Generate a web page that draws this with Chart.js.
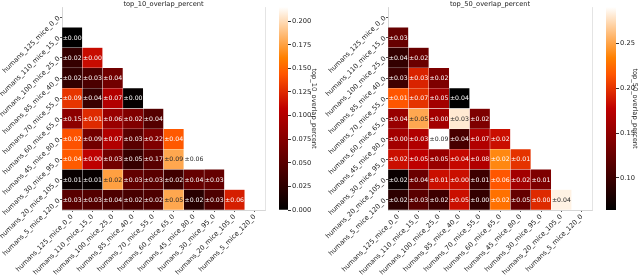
<!DOCTYPE html>
<html>
<head>
<meta charset="utf-8">
<script src="https://cdn.jsdelivr.net/npm/chart.js@4.4.1/dist/chart.umd.min.js"></script>
<style>
  html, body { margin: 0; padding: 0; background: #fff; }
  #wrap { position: relative; width: 640px; height: 275px; overflow: hidden; }
  canvas { position: absolute; top: 0; }
</style>
</head>
<body>
<div id="wrap">
  <canvas id="heat10" width="268" height="275" style="left:0px"></canvas>
  <canvas id="bar10" width="50" height="275" style="left:270px"></canvas>
  <canvas id="heat50" width="275" height="275" style="left:320px"></canvas>
  <canvas id="bar50" width="50" height="275" style="left:590px"></canvas>
</div>
<script>
// group names, used for rows and columns
const groups = ['humans_125_mice_0_0', 'humans_110_mice_15_0', 'humans_100_mice_25_0',
  'humans_85_mice_40_0', 'humans_70_mice_55_0', 'humans_60_mice_65_0', 'humans_45_mice_80_0',
  'humans_30_mice_95_0', 'humans_20_mice_105_0', 'humans_5_mice_120_0'];

// lower triangle: row i holds columns 0..i-1
const top10Mean = [
  [],
  [0.000],
  [0.030, 0.112],
  [0.028, 0.042, 0.064],
  [0.130, 0.032, 0.100, 0.003],
  [0.079, 0.125, 0.086, 0.072, 0.047],
  [0.142, 0.064, 0.100, 0.050, 0.072, 0.145],
  [0.146, 0.107, 0.064, 0.030, 0.050, 0.178, 0.215],
  [0.005, 0.004, 0.175, 0.055, 0.050, 0.036, 0.057, 0.057],
  [0.050, 0.047, 0.043, 0.040, 0.043, 0.178, 0.022, 0.043, 0.120]
];
const top10Std = [
  [],
  [0.00],
  [0.02, 0.00],
  [0.02, 0.03, 0.04],
  [0.09, 0.04, 0.07, 0.00],
  [0.15, 0.01, 0.06, 0.02, 0.04],
  [0.02, 0.09, 0.07, 0.03, 0.22, 0.04],
  [0.04, 0.00, 0.03, 0.05, 0.17, 0.09, 0.06],
  [0.01, 0.01, 0.02, 0.03, 0.03, 0.02, 0.04, 0.03],
  [0.03, 0.03, 0.04, 0.02, 0.02, 0.05, 0.02, 0.03, 0.06]
];
const top50Mean = [
  [],
  [0.125],
  [0.094, 0.127],
  [0.102, 0.193, 0.139],
  [0.216, 0.200, 0.161, 0.064],
  [0.154, 0.252, 0.161, 0.281, 0.139],
  [0.161, 0.169, 0.291, 0.106, 0.169, 0.184],
  [0.184, 0.177, 0.154, 0.181, 0.169, 0.238, 0.200],
  [0.070, 0.127, 0.184, 0.184, 0.100, 0.216, 0.161, 0.139],
  [0.090, 0.117, 0.100, 0.184, 0.094, 0.228, 0.124, 0.196, 0.285]
];
const top50Std = [
  [],
  [0.03],
  [0.04, 0.02],
  [0.03, 0.03, 0.02],
  [0.01, 0.07, 0.05, 0.04],
  [0.04, 0.05, 0.00, 0.03, 0.02],
  [0.00, 0.03, 0.09, 0.04, 0.07, 0.02],
  [0.02, 0.05, 0.05, 0.04, 0.08, 0.02, 0.01],
  [0.02, 0.04, 0.01, 0.00, 0.01, 0.06, 0.02, 0.01],
  [0.02, 0.03, 0.02, 0.05, 0.00, 0.02, 0.05, 0.00, 0.04]
];
// colorbar ticks
const top10Ticks = [0, 0.025, 0.05, 0.075, 0.1, 0.125, 0.15, 0.175, 0.2];
const top50Ticks = [0.10, 0.15, 0.20, 0.25];

const FONT = { family: '"DejaVu Sans", sans-serif', size: 6.7 };
const INK = '#222';

// matplotlib gist_heat
function gistHeat(f) {
  f = Math.max(0, Math.min(1, f));
  return [Math.min(1, 1.5 * f), Math.max(0, 2 * f - 1), Math.max(0, 4 * f - 3)];
}
function rgbStr(c) {
  return 'rgb(' + c.map(v => Math.round(v * 255)).join(',') + ')';
}
function luminance(c) {
  const l = c.map(v => v <= 0.03928 ? v / 12.92 : Math.pow((v + 0.055) / 1.055, 2.4));
  return 0.2126 * l[0] + 0.7152 * l[1] + 0.0722 * l[2];
}
function range(mean) {
  const all = mean.flat();
  return [Math.min(...all), Math.max(...all)];
}

function makeHeat(id, mean, std, title, yWidth) {
  const [vmin, vmax] = range(mean);
  const frac = v => (v - vmin) / (vmax - vmin);

  const datasets = [];
  for (let r = 1; r < groups.length; r++) {
    datasets.push({
      row: r,
      data: groups.map((g, c) => c < r ? [r, r + 1] : null),
      backgroundColor: ctx => c_(r, ctx.dataIndex),
      borderColor: 'rgba(255,255,255,0.18)',
      borderWidth: 0.5,
      borderSkipped: false,
      barPercentage: 1,
      categoryPercentage: 1,
      grouped: false
    });
  }
  function c_(r, c) {
    if (c == null || c >= r) return 'rgba(0,0,0,0)';
    return rgbStr(gistHeat(frac(mean[r][c])));
  }

  const cellText = {
    id: 'cellText',
    afterDatasetsDraw(chart) {
      const ctx = chart.ctx;
      ctx.save();
      ctx.font = '6.2px "DejaVu Sans", sans-serif';
      ctx.textAlign = 'center';
      ctx.textBaseline = 'middle';
      chart.data.datasets.forEach((ds, i) => {
        const r = ds.row;
        chart.getDatasetMeta(i).data.forEach((bar, c) => {
          if (c >= r) return;
          const p = bar.getProps(['x', 'y', 'base'], true);
          const lum = luminance(gistHeat(frac(mean[r][c])));
          ctx.fillStyle = lum > 0.408 ? '#262626' : '#ffffff';
          ctx.fillText('\u00b1' + std[r][c].toFixed(2), p.x, (p.y + p.base) / 2 + 0.5);
        });
      });
      ctx.restore();
    }
  };

  return new Chart(document.getElementById(id), {
    type: 'bar',
    data: { labels: groups, datasets },
    plugins: [cellText],
    options: {
      responsive: false,
      animation: false,
      events: [],
      layout: { padding: { right: 3, top: 0, left: 0, bottom: 0 } },
      plugins: { legend: { display: false }, tooltip: { enabled: false } },
      scales: {
        x: {
          type: 'category', position: 'bottom', offset: true,
          afterFit: s => { s.height = 65; },
          ticks: { autoSkip: false, minRotation: 45, maxRotation: 45, padding: 1, font: FONT, color: INK },
          grid: { drawOnChartArea: false, offset: false, tickLength: 2, color: '#555' },
          border: { display: true, color: '#cccccc', width: 0.8 }
        },
        xt: {
          type: 'category', position: 'top', offset: true,
          afterFit: s => { s.height = 7; },
          ticks: { display: false },
          grid: { display: false, drawTicks: false },
          border: { display: false },
          title: { display: true, text: title, font: FONT, color: INK, padding: 0 }
        },
        y: {
          type: 'linear', position: 'left', min: 0, max: groups.length, reverse: true,
          afterBuildTicks: s => { s.ticks = groups.map((g, i) => ({ value: i + 0.5 })); },
          afterFit: s => { s.width = yWidth; },
          ticks: {
            autoSkip: false, minRotation: 45, maxRotation: 45, padding: 1, font: FONT, color: INK,
            callback: (v, i) => groups[i]
          },
          grid: { drawOnChartArea: false, tickLength: 2, color: '#555' },
          border: { display: true, color: '#cccccc', width: 0.8 }
        },
        y2: {
          type: 'linear', position: 'right',
          afterFit: s => { s.width = 0; },
          ticks: { display: false },
          grid: { display: false, drawTicks: false },
          border: { display: true, color: '#dddddd', width: 0.8 }
        }
      }
    }
  });
}

function makeBar(id, mean, ticks, dec, title, padL, axisW, titlePad) {
  const [vmin, vmax] = range(mean);
  const stops = [0, 0.5, 2 / 3, 0.75, 1];
  return new Chart(document.getElementById(id), {
    type: 'bar',
    data: {
      labels: [''],
      datasets: [{
        data: [[vmin, vmax]],
        backgroundColor: ctx => {
          const ca = ctx.chart.chartArea;
          if (!ca) return '#000';
          const g = ctx.chart.ctx.createLinearGradient(0, ca.bottom, 0, ca.top);
          stops.forEach(s => g.addColorStop(s, rgbStr(gistHeat(s))));
          return g;
        },
        borderWidth: 0,
        barPercentage: 1,
        categoryPercentage: 1
      }]
    },
    options: {
      responsive: false,
      animation: false,
      events: [],
      layout: { padding: { left: padL, top: 7, bottom: 65, right: 0 } },
      plugins: { legend: { display: false }, tooltip: { enabled: false } },
      scales: {
        x: { display: false },
        y: {
          position: 'right', min: vmin, max: vmax,
          afterBuildTicks: s => { s.ticks = ticks.map(v => ({ value: v })); },
          afterFit: s => { s.width = axisW; },
          ticks: { font: FONT, color: INK, padding: 1, callback: v => v.toFixed(dec) },
          grid: { drawOnChartArea: false, tickLength: 3, color: '#333' },
          border: { display: false },
          title: { display: true, text: title, font: FONT, color: INK, padding: { top: titlePad, bottom: 0 } }
        }
      }
    }
  });
}

makeHeat('heat10', top10Mean, top10Std, 'top_10_overlap_percent', 62);
makeBar('bar10', top10Mean, top10Ticks, 3, 'top_10_overlap_percent', 9, 32, 2);
makeHeat('heat50', top50Mean, top50Std, 'top_50_overlap_percent', 68);
makeBar('bar50', top50Mean, top50Ticks, 2, 'top_50_overlap_percent', 16, 24, 1);
</script>
</body>
</html>
